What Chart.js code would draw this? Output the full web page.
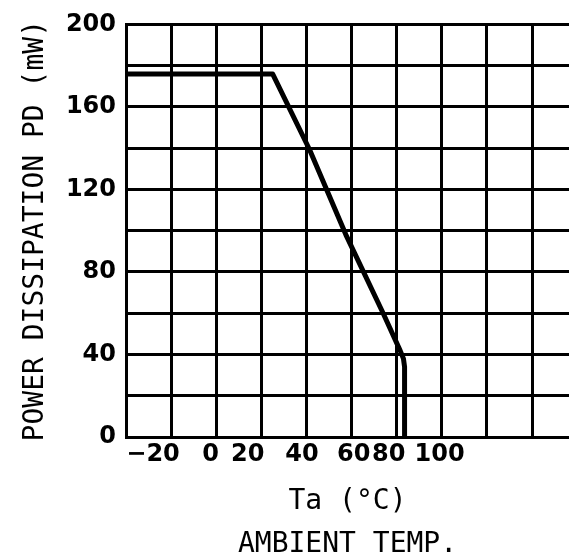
<!DOCTYPE html>
<html>
<head>
<meta charset="utf-8">
<script src="https://cdn.jsdelivr.net/npm/chart.js@4/dist/chart.umd.min.js"></script>
<style>
  html, body { margin: 0; padding: 0; background: #fff; }
  canvas { display: block; }
</style>
</head>
<body>
<canvas id="pdChart" width="569" height="558"></canvas>
<script>
// derating curve (Ta in degC, Pd in mW)
const curveTa = [-40, 25, 41.5, 57.5, 74, 81.5, 83, 83.5, 83.5];
const curvePd = [176, 176, 139, 98, 60, 42, 38, 34, 0];

// axis ticks
const gridTa = [-40, -20, 0, 20, 40, 60, 80, 100, 120, 140];
const xTickLabels = ['−20', '0', '20', '40', '60', '80', '100'];
const yTicks = [0, 40, 80, 120, 160, 200];

// the printed x labels do not sit on the grid lines in the scan
const xLabelAt = [-28, -2.5, 14, 38, 61, 76.5, 99];

const X_MIN = -40, X_MAX = 156.4;

function buildChart() {
    const ctx = document.getElementById('pdChart').getContext('2d');

    Chart.defaults.font.family = 'DejaVu Sans';
    Chart.defaults.color = '#000';

    const points = curveTa.map((t, i) => ({ x: t, y: curvePd[i] }));

    new Chart(ctx, {
        type: 'line',
        data: {
            datasets: [{
                data: points,
                xAxisID: 'x',
                yAxisID: 'y',
                borderColor: '#000',
                borderWidth: 5,
                borderJoinStyle: 'round',
                borderCapStyle: 'round',
                pointRadius: 0,
                tension: 0,
                fill: false
            }]
        },
        options: {
            responsive: false,
            animation: false,
            layout: {
                padding: { top: 20, right: 0, bottom: 0, left: 0 }
            },
            plugins: {
                legend: { display: false },
                tooltip: { enabled: false }
            },
            scales: {
                x: {
                    type: 'linear',
                    position: 'bottom',
                    min: X_MIN,
                    max: X_MAX,
                    afterBuildTicks: scale => {
                        scale.ticks = gridTa.map(v => ({ value: v }));
                    },
                    afterFit: scale => { scale.height = 0; },
                    ticks: { display: false },
                    grid: {
                        color: '#000',
                        lineWidth: 3,
                        drawTicks: false
                    },
                    border: { color: '#000', width: 3 }
                },
                xl: {
                    type: 'linear',
                    position: 'bottom',
                    min: X_MIN,
                    max: X_MAX,
                    afterBuildTicks: scale => {
                        scale.ticks = xLabelAt.map(v => ({ value: v }));
                    },
                    afterFit: scale => { scale.height = 121; },
                    grid: { display: false, drawTicks: false },
                    border: { display: false },
                    ticks: {
                        autoSkip: false,
                        maxRotation: 0,
                        padding: 3,
                        font: { size: 24, weight: 'bold' },
                        callback: (value, index) => xTickLabels[index]
                    },
                    title: {
                        display: true,
                        text: ['Ta (°C)', 'AMBIENT TEMP.'],
                        font: { family: 'DejaVu Sans Mono', size: 28, lineHeight: 1.54 },
                        padding: { top: 0, bottom: -8 }
                    }
                },
                y: {
                    type: 'linear',
                    min: 0,
                    max: 200,
                    afterFit: scale => { scale.width = 126; },
                    ticks: {
                        stepSize: 20,
                        padding: 10,
                        font: { size: 24, weight: 'bold' },
                        callback: value => yTicks.includes(value) ? value : ''
                    },
                    grid: {
                        color: '#000',
                        lineWidth: 3,
                        drawTicks: false
                    },
                    border: { color: '#000', width: 3 },
                    title: {
                        display: true,
                        text: 'POWER DISSIPATION PD (mW)',
                        font: { family: 'DejaVu Sans Mono', size: 28 },
                        padding: { top: 19, bottom: 0 }
                    }
                }
            }
        }
    });
}

document.addEventListener('DOMContentLoaded', buildChart);
</script>
</body>
</html>
